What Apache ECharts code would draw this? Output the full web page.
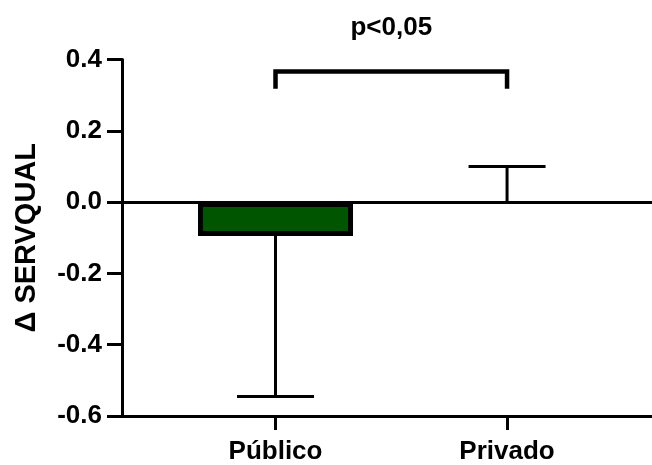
<!DOCTYPE html>
<html>
<head>
<meta charset="utf-8">
<script src="https://cdn.jsdelivr.net/npm/echarts@6/dist/echarts.min.js"></script>
<style>
  html, body { margin: 0; padding: 0; background: #fff; }
  #chart { width: 652px; height: 465px; }
</style>
</head>
<body>
<div id="chart"></div>
<script>
// data
var categories = ['Público', 'Privado'];
var means = [-0.095, 0.0];
var errorEnds = [-0.545, 0.10];
var bracketTop = 0.366;
var bracketFoot = 0.318;
var pText = 'p<0,05';
var pTextY = 0.488;

var font = 'Liberation Sans, Arial, sans-serif';

var chart = echarts.init(document.getElementById('chart'), null, { renderer: 'canvas' });

// zero-height bar gets no outline (it sits on the zero line)
var barData = means.map(function (v, i) {
  return v === 0 ? { value: [i, v], itemStyle: { borderWidth: 0 } } : [i, v];
});
var errData = means.map(function (v, i) { return [i, v, errorEnds[i]]; });

var option = {
  backgroundColor: '#fff',
  animation: false,
  grid: { left: 122, right: 0, top: 59.5, bottom: 46 },
  xAxis: {
    type: 'value',
    min: -0.663,
    max: 1.626,
    splitLine: { show: false },
    axisLine: { onZero: false, lineStyle: { color: '#000', width: 3 } },
    axisTick: { show: true, customValues: [0, 1], length: 14, lineStyle: { color: '#000', width: 3 } },
    axisLabel: {
      customValues: [0, 1],
      margin: 23,
      color: '#000',
      fontFamily: font,
      fontWeight: 'bold',
      fontSize: 26,
      formatter: function (v) { return categories[Math.round(v)]; }
    }
  },
  yAxis: {
    type: 'value',
    min: -0.6,
    max: 0.4,
    interval: 0.2,
    name: 'Δ SERVQUAL',
    nameLocation: 'middle',
    nameGap: 81,
    nameTextStyle: { color: '#000', fontFamily: font, fontWeight: 'bold', fontSize: 29 },
    splitLine: { show: false },
    axisLine: { show: true, onZero: false, lineStyle: { color: '#000', width: 3 } },
    axisTick: { show: true, length: 15, lineStyle: { color: '#000', width: 3 } },
    axisLabel: {
      margin: 20,
      color: '#000',
      fontFamily: font,
      fontWeight: 'bold',
      fontSize: 26,
      formatter: function (v) { return v.toFixed(1); }
    }
  },
  series: [
    {
      type: 'bar',
      data: barData,
      barWidth: 155,
      itemStyle: { color: '#005500', borderColor: '#000', borderWidth: 5 },
      markLine: {
        silent: true,
        symbol: 'none',
        label: { show: false },
        lineStyle: { color: '#000', width: 3, type: 'solid' },
        data: [{ yAxis: 0 }]
      }
    },
    {
      type: 'custom',
      data: errData,
      renderItem: function (params, api) {
        var base = api.coord([api.value(0), api.value(1)]);
        var end = api.coord([api.value(0), api.value(2)]);
        var half = 38.5;
        return {
          type: 'group',
          children: [
            { type: 'line', shape: { x1: base[0], y1: base[1], x2: end[0], y2: end[1] }, style: { stroke: '#000', lineWidth: 3 } },
            { type: 'line', shape: { x1: end[0] - half, y1: end[1], x2: end[0] + half, y2: end[1] }, style: { stroke: '#000', lineWidth: 3 } }
          ]
        };
      },
      z: 3
    },
    {
      type: 'custom',
      data: [[0, 1]],
      renderItem: function (params, api) {
        var a = api.coord([0, bracketFoot]);
        var b = api.coord([0, bracketTop]);
        var c = api.coord([1, bracketTop]);
        var d = api.coord([1, bracketFoot]);
        var t = api.coord([0.5, pTextY]);
        return {
          type: 'group',
          children: [
            { type: 'polyline', shape: { points: [a, b, c, d] }, style: { stroke: '#000', lineWidth: 4.5, fill: null } },
            { type: 'text', x: t[0], y: t[1], style: { text: pText, fill: '#000', font: 'bold 26px ' + font, align: 'center', verticalAlign: 'middle' } }
          ]
        };
      }
    }
  ]
};

chart.setOption(option);
</script>
</body>
</html>
